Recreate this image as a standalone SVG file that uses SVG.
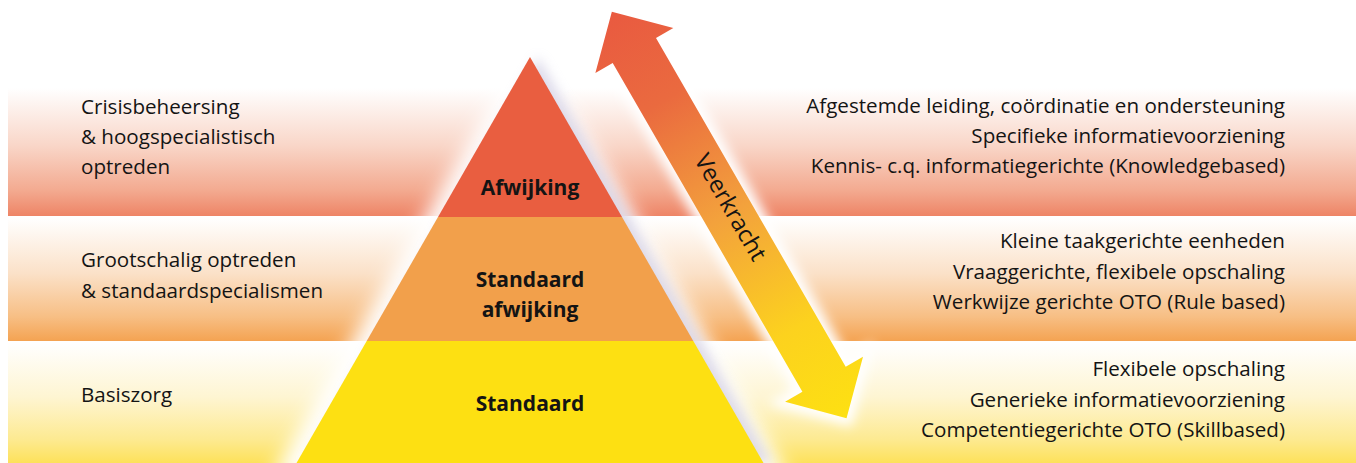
<svg xmlns="http://www.w3.org/2000/svg" width="1356" height="463" viewBox="0 0 1356 463">
  <defs>
    <linearGradient id="gTop" x1="0" y1="0" x2="0" y2="1">
      <stop offset="0" stop-color="#FFFFFF"/>
      <stop offset="0.45" stop-color="#F9D6C8"/>
      <stop offset="0.8" stop-color="#F3AA90"/>
      <stop offset="1" stop-color="#EE8466"/>
    </linearGradient>
    <linearGradient id="gMid" x1="0" y1="0" x2="0" y2="1">
      <stop offset="0" stop-color="#FFFFFF"/>
      <stop offset="0.45" stop-color="#FBE1C8"/>
      <stop offset="0.8" stop-color="#F7BF85"/>
      <stop offset="1" stop-color="#F4A352"/>
    </linearGradient>
    <linearGradient id="gBot" x1="0" y1="0" x2="0" y2="1">
      <stop offset="0" stop-color="#FFFFFF"/>
      <stop offset="0.45" stop-color="#FEF5D2"/>
      <stop offset="0.8" stop-color="#FDEA92"/>
      <stop offset="1" stop-color="#FDE15A"/>
    </linearGradient>
    <linearGradient id="gArrow" gradientUnits="userSpaceOnUse" x1="-234.7" y1="0" x2="234.7" y2="0">
      <stop offset="0" stop-color="#E95A40"/>
      <stop offset="0.22" stop-color="#EA6A3F"/>
      <stop offset="0.5" stop-color="#F3A23C"/>
      <stop offset="0.78" stop-color="#FCD21E"/>
      <stop offset="1" stop-color="#FDE012"/>
    </linearGradient>
    <filter id="blurBig" x="-30%" y="-30%" width="160%" height="160%">
      <feGaussianBlur stdDeviation="10"/>
    </filter>
    <filter id="blurSmall" x="-30%" y="-30%" width="160%" height="160%">
      <feGaussianBlur stdDeviation="6"/>
    </filter>
  </defs>
  <style>
    .lbl { font-family: "Open Sans", "Noto Sans", sans-serif; font-size: 20.6px; fill: #141414; }
    .r { text-anchor: end; }
    .pl { font-family: "Open Sans", "Noto Sans", sans-serif; font-size: 21px; font-weight: bold; fill: #141414; text-anchor: middle; }
    .vk { font-family: "Open Sans", "Noto Sans", sans-serif; font-size: 23.5px; fill: #141414; text-anchor: middle; }
  </style>

  <rect width="1356" height="463" fill="#FFFFFF"/>

  <g id="bands">
    <rect id="band-top" x="8" y="88" width="1348" height="128" fill="url(#gTop)"/>
    <rect id="band-mid" x="8" y="218" width="1348" height="123" fill="url(#gMid)"/>
    <rect id="band-bot" x="8" y="343" width="1348" height="120" fill="url(#gBot)"/>
  </g>

  <g id="pyramid">
    <polygon points="530,40 790,480 270,480" fill="#FFFFFF" filter="url(#blurBig)"/>
    <polygon points="538,57 772,463 305,463" fill="#C8C4DE" opacity="0.6" filter="url(#blurSmall)"/>
    <g id="level-top">
      <polygon points="530,57 622,217 438,217" fill="#E95E40"/>
      <text class="pl" x="530" y="195">Afwijking</text>
    </g>
    <g id="level-mid">
      <polygon points="438,217 622,217 693.3,341 366.7,341" fill="#F2A04B"/>
      <text class="pl" x="530" y="287">Standaard</text>
      <text class="pl" x="530" y="317">afwijking</text>
    </g>
    <g id="level-bot">
      <polygon points="366.7,341 693.3,341 763.5,463 296.5,463" fill="#FDE012"/>
      <text class="pl" x="530" y="411">Standaard</text>
    </g>
  </g>

  <g id="connectors">
    <g id="arrow-veerkracht" transform="translate(729.2,214.9) rotate(60)">
      <polygon points="-234.7,0 -189.7,-45 -189.7,-25 189.7,-25 189.7,-45 234.7,0 189.7,45 189.7,25 -189.7,25 -189.7,45" fill="#FFFFFF" stroke="#FFFFFF" stroke-width="14" filter="url(#blurSmall)"/>
      <polygon points="-234.7,0 -189.7,-45 -189.7,-25 189.7,-25 189.7,-45 234.7,0 189.7,45 189.7,25 -189.7,25 -189.7,45" fill="url(#gArrow)"/>
      <text class="vk" x="-6" y="3">Veerkracht</text>
    </g>
  </g>

  <g id="left-labels">
    <g id="left-top">
      <text class="lbl" x="81" y="114">Crisisbeheersing</text>
      <text class="lbl" x="81" y="144">&amp; hoogspecialistisch</text>
      <text class="lbl" x="81" y="174">optreden</text>
    </g>
    <g id="left-mid">
      <text class="lbl" x="81" y="267">Grootschalig optreden</text>
      <text class="lbl" x="81" y="298">&amp; standaardspecialismen</text>
    </g>
    <g id="left-bot">
      <text class="lbl" x="81" y="402">Basiszorg</text>
    </g>
  </g>

  <g id="right-labels">
    <g id="right-top">
      <text class="lbl r" x="1285" y="113">Afgestemde leiding, coördinatie en ondersteuning</text>
      <text class="lbl r" x="1285" y="143">Specifieke informatievoorziening</text>
      <text class="lbl r" x="1285" y="173">Kennis- c.q. informatiegerichte (Knowledgebased)</text>
    </g>
    <g id="right-mid">
      <text class="lbl r" x="1285" y="248">Kleine taakgerichte eenheden</text>
      <text class="lbl r" x="1285" y="279">Vraaggerichte, flexibele opschaling</text>
      <text class="lbl r" x="1285" y="309">Werkwijze gerichte OTO (Rule based)</text>
    </g>
    <g id="right-bot">
      <text class="lbl r" x="1285" y="376">Flexibele opschaling</text>
      <text class="lbl r" x="1285" y="407">Generieke informatievoorziening</text>
      <text class="lbl r" x="1285" y="437">Competentiegerichte OTO (Skillbased)</text>
    </g>
  </g>
</svg>
